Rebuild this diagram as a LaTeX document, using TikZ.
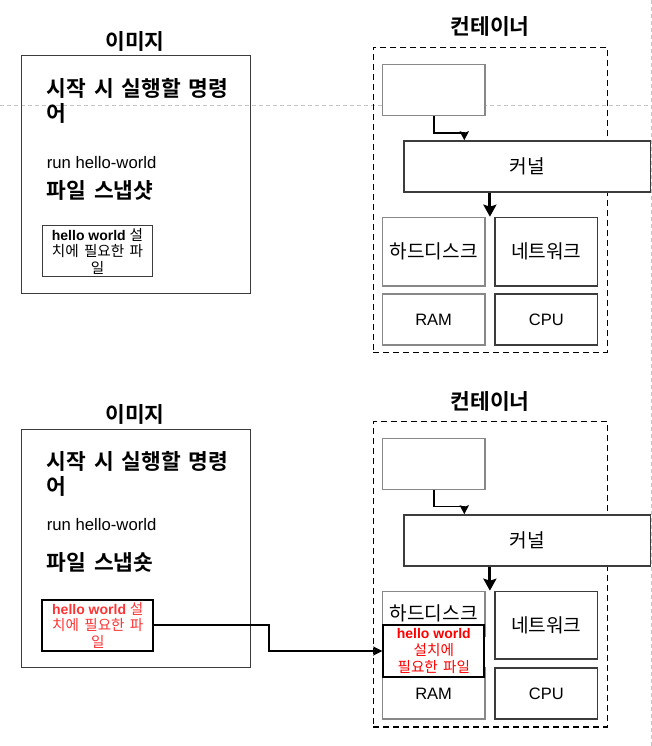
\documentclass[tikz,border=0pt]{standalone}
\usepackage{fontspec}
\setmainfont{Liberation Sans}
\newfontfamily\kr{Noto Sans CJK KR}[Scale=1.16, WordSpace=1.6, BoldFont={Noto Sans CJK KR Bold}]
\newcommand\krsmall{\kr\fontsize{12.6}{16.7}\selectfont}
\usetikzlibrary{arrows.meta,positioning,calc}
\definecolor{lightline}{HTML}{888888}
\definecolor{darkline}{HTML}{3C3C3C}
\definecolor{guideline}{HTML}{C4C4C4}
\definecolor{softred}{HTML}{FF3333}
\tikzset{
  title/.style={font=\kr\bfseries\fontsize{18.5}{22}\selectfont, inner sep=0pt},
  heading/.style={font=\kr\bfseries\fontsize{18.5}{24.7}\selectfont, align=left, anchor=west, inner sep=0pt},
  plain/.style={font=\fontsize{16.7}{19}\selectfont, anchor=west, inner sep=0pt},
  imgbox/.style={draw=darkline, line width=1pt, anchor=north west, inner sep=0pt},
  part/.style={draw=lightline, line width=1.5pt, fill=white, anchor=north west, inner sep=0pt,
    font=\fontsize{16.5}{19}\selectfont},
  dpart/.style={part, draw=darkline},
  filebox/.style={draw=black, anchor=north west, inner sep=0pt, align=center,
    font=\fontsize{14}{16.7}\selectfont},
  ctrbox/.style={draw=black, line width=1.5pt, dash pattern=on 6pt off 4pt, anchor=north west, inner sep=0pt},
  guide/.style={draw=guideline, line width=1pt, dash pattern=on 4pt off 3pt},
  thinarr/.style={-{Stealth[length=9pt,width=9pt,inset=1.5pt]}, line width=1.8pt},
  fatarr/.style={-{Stealth[length=12pt,width=13pt,inset=2pt]}, line width=3pt},
}
\begin{document}
\begin{tikzpicture}[x=1pt, y=-1pt]
  \useasboundingbox (0,0) rectangle (652,746);
  \draw[guide] (0,105.3) -- (652,105.3);
  \draw[guide] (651,0) -- (651,746);

  % upper row
  \node[title] (imgtitleA) at (135,41.7) {이미지};
  \node[imgbox, minimum width=229.3pt, minimum height=238.3pt] (imageA) at (20.7,55) {};
  \node[heading] (cmdA) at (46.7,100.7) {시작 시 실행할 명령\\어};
  \node[plain] (runA) at (46.7,162.7) {run hello-world};
  \node[heading] (snapA) at (46.7,190.7) {파일 스냅샷};
  \node[filebox, line width=1pt, draw=darkline, minimum width=110.6pt, minimum height=51pt]
    (fileA) at (41.7,225.3) {{\bfseries hello world} {\krsmall 설}\\{\krsmall 치에 필요한 파}\\{\krsmall 일}};

  \node[title] (ctrtitleA) at (490,26.7) {컨테이너};
  \node[ctrbox, minimum width=234pt, minimum height=305pt] (ctrA) at (372.7,46.7) {};
  \node[part, minimum width=102.3pt, minimum height=50.7pt] (appA) at (381.7,64) {};
  \node[dpart, minimum width=246.4pt, minimum height=51pt] (kernA) at (403.3,140.3) {\kr 커널};
  \node[part, minimum width=102.3pt, minimum height=68.3pt] (diskA) at (381.7,216.7) {\kr 하드디스크};
  \node[dpart, minimum width=102.4pt, minimum height=68.3pt] (netA) at (494.3,216.7) {\kr 네트워크};
  \node[part, minimum width=102.3pt, minimum height=50.7pt] (ramA) at (381.7,293.3) {RAM};
  \node[dpart, minimum width=102.4pt, minimum height=50.7pt] (cpuA) at (494.3,293.3) {CPU};
  \coordinate (gapA) at ($(diskA.north east)!.5!(netA.north west)$);
  \draw[thinarr] (appA.south) -- ++(0,17) -| ([xshift=61pt]kernA.north west);
  \draw[fatarr] (kernA.south -| gapA) -- (gapA);

  % lower row
  \node[title] (imgtitleB) at (135,414) {이미지};
  \node[imgbox, minimum width=229.3pt, minimum height=238pt] (imageB) at (20.7,429.3) {};
  \node[heading] (cmdB) at (46.7,474.2) {시작 시 실행할 명령\\어};
  \node[plain] (runB) at (46.7,525) {run hello-world};
  \node[heading] (snapB) at (46.7,562.7) {파일 스냅숏};
  \node[filebox, line width=2pt, text=softred, minimum width=111pt, minimum height=51.3pt]
    (fileB) at (41.3,598.7) {{\bfseries hello world} {\krsmall 설}\\{\krsmall 치에 필요한 파}\\{\krsmall 일}};

  \node[title] (ctrtitleB) at (490,401.7) {컨테이너};
  \node[ctrbox, minimum width=234pt, minimum height=305.3pt] (ctrB) at (372.7,420.7) {};
  \node[part, minimum width=102.3pt, minimum height=51pt] (appB) at (381.7,437.7) {};
  \node[dpart, minimum width=246.4pt, minimum height=50.7pt] (kernB) at (403.3,514.3) {\kr 커널};
  \node[part, minimum width=102.3pt, minimum height=44.6pt] (diskB) at (381.7,590.7) {\kr 하드디스크};
  \node[dpart, minimum width=102.4pt, minimum height=67.6pt] (netB) at (494.3,590.7) {\kr 네트워크};
  \node[part, minimum width=102.3pt, minimum height=51pt] (ramB) at (381.7,667.3) {RAM};
  \node[dpart, minimum width=102.4pt, minimum height=51pt] (cpuB) at (494.3,667.3) {CPU};
  \node[filebox, line width=2pt, fill=white, text=red, minimum width=101pt, minimum height=51.4pt]
    (fileC) at (382.3,624.3) {{\bfseries hello world}\\{\krsmall 설치에}\\{\krsmall 필요한 파일}};
  \coordinate (gapB) at ($(diskB.north east)!.5!(netB.north west)$);
  \draw[thinarr] (appB.south) -- ++(0,16.3) -| ([xshift=61pt]kernB.north west);
  \draw[fatarr] (kernB.south -| gapB) -- (gapB);
  \draw[thinarr] (fileB.east) -- ++(115,0) |- (fileC.west);
\end{tikzpicture}
\end{document}
